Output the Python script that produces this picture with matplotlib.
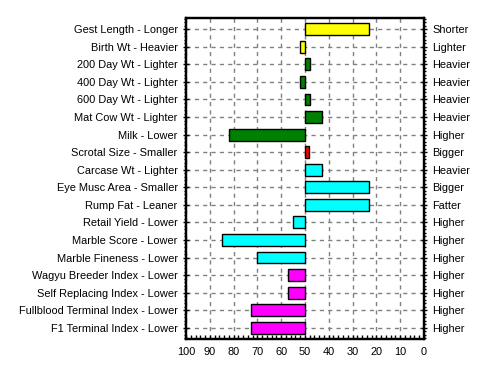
import matplotlib
matplotlib.use("Agg")
import matplotlib.pyplot as plt
from matplotlib.ticker import MultipleLocator, AutoMinorLocator

traits_low = ["Gest Length - Longer", "Birth Wt - Heavier", "200 Day Wt - Lighter",
              "400 Day Wt - Lighter", "600 Day Wt - Lighter", "Mat Cow Wt - Lighter",
              "Milk - Lower", "Scrotal Size - Smaller", "Carcase Wt - Lighter",
              "Eye Musc Area - Smaller", "Rump Fat - Leaner", "Retail Yield - Lower",
              "Marble Score - Lower", "Marble Fineness - Lower", "Wagyu Breeder Index - Lower",
              "Self Replacing Index - Lower", "Fullblood Terminal Index - Lower",
              "F1 Terminal Index - Lower"]
traits_high = ["Shorter", "Lighter", "Heavier", "Heavier", "Heavier", "Heavier",
               "Higher", "Bigger", "Heavier", "Bigger", "Fatter", "Higher",
               "Higher", "Higher", "Higher", "Higher", "Higher", "Higher"]
percentiles = [23, 52, 48, 52, 48, 43, 82, 48.5, 43, 23, 23, 55, 85, 70, 57, 57, 72.5, 72.5]
groups = ["calving", "calving", "growth", "growth", "growth", "growth", "growth",
          "fertility", "carcase", "carcase", "carcase", "carcase", "carcase", "carcase",
          "index", "index", "index", "index"]
center = 50
x_ticks = [100, 90, 80, 70, 60, 50, 40, 30, 20, 10, 0]

group_colors = {"calving": "#FFFF00", "growth": "#008000", "fertility": "#FF0000",
                "carcase": "#00FFFF", "index": "#FF00FF"}

plt.rcParams["font.family"] = ["Liberation Sans", "DejaVu Sans"]
fs = 7.9

fig = plt.figure(figsize=(4.85, 3.65), dpi=100)
ax = fig.add_axes([0.3835, 0.0712, 0.4905, 0.8795])

y = list(range(len(traits_low)))
widths = [p - center for p in percentiles]
ax.barh(y, widths, left=center, height=0.68,
        color=[group_colors[g] for g in groups], edgecolor="black", linewidth=1.0, zorder=3)

ax.set_xlim(100, 0)
ax.set_ylim(len(y) - 1 + 0.64, -0.64)
ax.set_xticks(x_ticks)
ax.set_xticklabels([str(t) for t in x_ticks])
ax.xaxis.set_minor_locator(MultipleLocator(2))
ax.set_yticks(y)
ax.set_yticklabels(traits_low)
ax.yaxis.set_minor_locator(AutoMinorLocator(5))

ax.grid(True, which="major", color="#808080", linestyle=(0, (3, 3)), linewidth=1, zorder=0)
for s in ax.spines.values():
    s.set_linewidth(1.6)

ax.tick_params(axis="both", which="major", labelsize=fs, direction="inout", length=5, width=1, colors="black")
ax.tick_params(axis="x", which="major", direction="in", length=3, pad=6)
ax.tick_params(axis="x", which="minor", direction="in", length=3, width=1)
ax.tick_params(axis="y", which="minor", direction="out", length=1.5, width=1)

ax2 = ax.twinx()
ax2.set_ylim(ax.get_ylim())
ax2.set_yticks(y)
ax2.set_yticklabels(traits_high)
ax2.yaxis.set_minor_locator(AutoMinorLocator(5))
ax2.tick_params(axis="y", which="major", labelsize=fs, direction="inout", length=5, width=1)
ax2.tick_params(axis="y", which="minor", direction="out", length=1.5, width=1)
for s in ax2.spines.values():
    s.set_linewidth(1.6)

fig.savefig("out.png", dpi=100)
